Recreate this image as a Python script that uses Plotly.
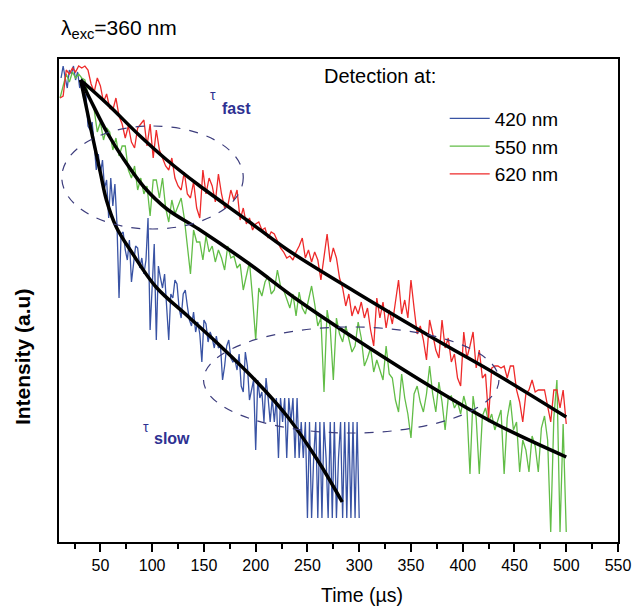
import numpy as np
import plotly.graph_objects as go

# ---------------- data (log10 of intensity, arbitrary units) ----------------
t_rg = list(range(11, 501, 3))          # time grid for 550 nm and 620 nm (µs)
t_blue = list(range(12, 301, 2))        # time grid for 420 nm (µs)

log_int_620 = [
    2.10, 2.11, 2.24, 2.22, 2.25, 2.23, 2.26, 2.25, 2.26, 2.24,
    2.17, 2.13, 2.20, 2.16, 2.08, 2.12, 2.05, 2.04, 2.10, 2.01,
    1.97, 1.90, 1.96, 1.88, 1.85, 1.95, 1.97, 1.99, 1.86, 1.97,
    1.80, 1.94, 1.84, 1.80, 1.76, 1.74, 1.80, 1.70, 1.66, 1.64,
    1.73, 1.62, 1.60, 1.68, 1.55, 1.50, 1.74, 1.62, 1.70, 1.66,
    1.58, 1.72, 1.62, 1.55, 1.56, 1.64, 1.59, 1.64, 1.49, 1.55,
    1.47, 1.50, 1.44, 1.47, 1.48, 1.44, 1.45, 1.40, 1.43, 1.42,
    1.38, 1.35, 1.33, 1.30, 1.31, 1.29, 1.33, 1.36, 1.40, 1.30,
    1.34, 1.28, 1.33, 1.29, 1.19, 1.30, 1.42, 1.28, 1.35, 1.30,
    1.20, 1.15, 1.06, 1.12, 1.01, 1.06, 1.02, 1.08, 1.00, 1.05,
    0.94, 0.86, 1.10, 1.00, 1.08, 0.95, 1.04, 0.97, 1.08, 1.19,
    1.02, 1.09, 1.00, 1.19, 1.05, 0.92, 0.96, 0.89, 0.79, 0.99,
    0.92, 0.84, 0.80, 0.99, 0.85, 0.90, 0.78, 0.82, 0.70, 0.66,
    0.93, 0.80, 0.86, 0.93, 0.75, 0.84, 0.70, 0.72, 0.50, 0.75,
    0.76, 0.76, 0.75, 0.76, 0.70, 0.76, 0.76, 0.64, 0.58, 0.48,
    0.62, 0.64, 0.69, 0.63, 0.64, 0.64, 0.64, 0.56, 0.48, 0.64,
    0.64, 0.55, 0.64, 0.47,
]

log_int_550 = [
    2.10, 2.16, 2.22, 2.18, 2.23, 2.20, 2.22, 2.20, 2.19, 2.12,
    2.09, 2.04, 1.93, 1.98, 1.89, 1.95, 1.93, 1.84, 1.90, 1.81,
    1.86, 1.86, 1.74, 1.70, 1.76, 1.64, 1.70, 1.62, 1.66, 1.51,
    1.69, 1.69, 1.60, 1.70, 1.55, 1.48, 1.59, 1.52, 1.56, 1.60,
    1.50, 1.36, 1.22, 1.44, 1.38, 1.38, 1.29, 1.41, 1.33, 1.36,
    1.28, 1.34, 1.30, 1.24, 1.36, 1.30, 1.31, 1.25, 1.27, 1.14,
    1.21, 1.28, 1.10, 0.89, 1.15, 1.11, 1.18, 1.21, 1.12, 1.14,
    1.24, 1.16, 1.14, 1.10, 1.05, 1.12, 1.01, 1.13, 1.05, 1.02,
    1.09, 1.16, 1.07, 0.96, 1.00, 0.63, 1.04, 0.95, 0.69, 1.00,
    0.92, 0.88, 0.96, 0.90, 0.83, 0.86, 0.98, 0.90, 0.76, 0.80,
    0.85, 0.73, 0.79, 0.74, 0.69, 0.86, 0.72, 0.70, 0.59, 0.53,
    0.72, 0.60, 0.52, 0.40, 0.62, 0.66, 0.58, 0.53, 0.62, 0.76,
    0.62, 0.53, 0.68, 0.58, 0.44, 0.60, 0.61, 0.55, 0.58, 0.52,
    0.61, 0.55, 0.22, 0.61, 0.50, 0.22, 0.51, 0.55, 0.48, 0.52,
    0.44, 0.49, 0.54, 0.22, 0.50, 0.59, 0.44, 0.48, 0.23, 0.39,
    0.34, 0.23, 0.41, 0.36, 0.23, 0.45, 0.51, 0.39, -0.07, 0.50,
    0.69, -0.07, 0.47, -0.07,
]

log_int_420 = [
    2.20, 2.26, 2.20, 2.15, 2.24, 2.22, 2.26, 2.19, 2.23, 2.15,
    2.20, 2.09, 2.12, 1.96, 1.94, 1.98, 1.87, 1.74, 1.82, 1.72,
    1.79, 1.65, 1.69, 1.50, 1.70, 1.56, 1.67, 1.47, 1.10, 1.42,
    1.43, 1.34, 1.29, 1.39, 1.18, 1.26, 1.36, 1.35, 1.25, 1.30,
    1.22, 1.29, 1.50, 0.94, 1.18, 1.37, 0.89, 1.26, 1.20, 1.15,
    1.22, 1.08, 0.89, 1.12, 1.10, 1.19, 1.17, 1.05, 1.00, 1.12,
    1.14, 1.06, 0.99, 0.96, 1.03, 0.93, 0.98, 0.92, 0.78, 0.99,
    0.97, 0.88, 0.93, 0.90, 0.85, 0.91, 0.85, 0.86, 0.69, 0.76,
    0.86, 0.89, 0.80, 0.78, 0.79, 0.74, 0.82, 0.66, 0.63, 0.83,
    0.76, 0.59, 0.64, 0.69, 0.34, 0.69, 0.60, 0.63, 0.48, 0.70,
    0.60, 0.48, 0.60, 0.48, 0.60, 0.30, 0.60, 0.48, 0.60, 0.30,
    0.60, 0.48, 0.60, 0.30, 0.60, 0.30, 0.48, 0.30, 0.48, 0.00,
    0.48, 0.00, 0.30, 0.48, 0.00, 0.48, 0.00, 0.48, 0.30, 0.00,
    0.48, 0.00, 0.48, 0.00, 0.30, 0.48, 0.00, 0.48, 0.00, 0.48,
    0.00, 0.48, 0.00, 0.48, 0.00,
]

# fitted decay curves
fit_t_420 = [30.9, 40.4, 50.0, 55.8, 65.3, 80.7, 103.7, 135.3, 166.9, 199.4, 231.0, 259.7, 283.6]
fit_y_420 = [2.19, 1.955, 1.725, 1.59, 1.455, 1.325, 1.155, 1.005, 0.855, 0.69, 0.505, 0.29, 0.08]

fit_t_550 = [30.9, 40.4, 56.7, 73.0, 92.1, 114.2, 144.8, 192.7, 240.6, 298.0, 374.6, 432.1, 500.0]
fit_y_550 = [2.19, 2.09, 1.925, 1.79, 1.655, 1.545, 1.445, 1.275, 1.09, 0.89, 0.64, 0.47, 0.305]

fit_t_620 = [30.9, 56.7, 88.3, 114.2, 144.8, 192.7, 231.0, 298.0, 374.6, 432.1, 500.0]
fit_y_620 = [2.19, 2.07, 1.91, 1.79, 1.665, 1.485, 1.34, 1.125, 0.89, 0.72, 0.505]

series_names = ["420 nm", "550 nm", "620 nm"]
series_colors = ["#3953a4", "#62bd47", "#ee2a2a"]

# ---------------- figure ----------------
fig = go.Figure()

fig.add_trace(go.Scatter(x=t_blue, y=log_int_420, mode="lines", name=series_names[0],
                         line=dict(color=series_colors[0], width=1.3)))
fig.add_trace(go.Scatter(x=t_rg, y=log_int_550, mode="lines", name=series_names[1],
                         line=dict(color=series_colors[1], width=1.3)))
fig.add_trace(go.Scatter(x=t_rg, y=log_int_620, mode="lines", name=series_names[2],
                         line=dict(color=series_colors[2], width=1.3)))

for tx, ty in [(fit_t_420, fit_y_420), (fit_t_550, fit_y_550), (fit_t_620, fit_y_620)]:
    fig.add_trace(go.Scatter(x=tx, y=ty, mode="lines", showlegend=False, hoverinfo="skip",
                             line=dict(color="black", width=3.5, shape="spline", smoothing=1.0)))

ell_color = "#3c3c7c"
fig.add_shape(type="circle", xref="x", yref="y", x0=12.7, x1=188, y0=1.445, y1=1.96,
              line=dict(color=ell_color, width=1.2, dash="dash"))
fig.add_shape(type="circle", xref="x", yref="y", x0=149.6, x1=435, y0=0.425, y1=0.955,
              line=dict(color=ell_color, width=1.2, dash="dash"))

FONT = "Liberation Sans, Arial, sans-serif"
navy = "#2e3192"

annots = [
    dict(x=0.0, y=1.093, xref="paper", yref="paper", xanchor="left", yanchor="top",
         text="λ<sub>exc</sub>=360 nm", showarrow=False, font=dict(size=21, color="black")),
    dict(x=0.471, y=0.965, xref="paper", yref="paper", xanchor="left", yanchor="middle",
         text="Detection at:", showarrow=False, font=dict(size=20, color="black")),
    dict(x=159.2, y=2.115, xref="x", yref="y", text="τ", showarrow=False,
         font=dict(size=14, color=navy)),
    dict(x=181, y=2.05, xref="x", yref="y", text="<b>fast</b>", showarrow=False,
         font=dict(size=16, color=navy)),
    dict(x=94.1, y=0.455, xref="x", yref="y", text="τ", showarrow=False,
         font=dict(size=14, color=navy)),
    dict(x=119, y=0.40, xref="x", yref="y", text="<b>slow</b>", showarrow=False,
         font=dict(size=16, color=navy)),
    # axis titles
    dict(x=0.5426, y=-0.11, xref="paper", yref="paper", xanchor="center", yanchor="middle",
         text="Time (µs)", showarrow=False, font=dict(size=19.5, color="black")),
    dict(x=-0.066, y=0.383, xref="paper", yref="paper", xanchor="center", yanchor="middle",
         text="<b>Intensity (a.u)</b>", textangle=-90, showarrow=False,
         font=dict(size=21, color="black")),
]

# page body adds an 8 px offset, so the figure is 8 px smaller and margins shifted
fig.update_layout(
    width=635, height=600,
    margin=dict(l=51, r=20, t=51, b=66),
    paper_bgcolor="white", plot_bgcolor="white",
    font=dict(family=FONT, color="black"),
    annotations=annots,
    legend=dict(x=0.69, y=0.916, xanchor="left", yanchor="top",
                bgcolor="rgba(0,0,0,0)", font=dict(size=19), itemwidth=40,
                tracegroupgap=0),
    xaxis=dict(range=[10, 550], tick0=0, dtick=50, showgrid=False, zeroline=False,
               showline=True, linewidth=2, linecolor="black", mirror=True,
               ticks="outside", ticklen=8, tickwidth=2, tickcolor="black",
               minor=dict(ticks="outside", dtick=25, tick0=0, ticklen=5, tickwidth=1.5,
                          tickcolor="black"),
               tickfont=dict(size=16)),
    yaxis=dict(range=[-0.12, 2.295], showgrid=False, zeroline=False, showticklabels=False,
               ticks="", showline=True, linewidth=2, linecolor="black", mirror=True),
)

fig.write_html("out.html")
